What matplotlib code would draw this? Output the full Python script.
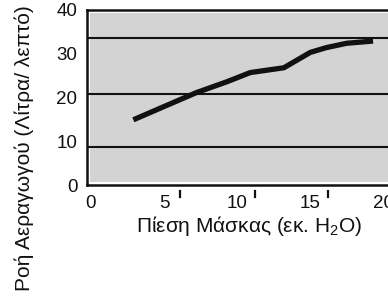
import matplotlib
matplotlib.use("Agg")
import matplotlib.pyplot as plt
from matplotlib.patches import Rectangle
import matplotlib.transforms as mtransforms

plt.rcParams['font.family'] = ['Liberation Sans', 'DejaVu Sans']

# data
pressure = [2.9, 4.7, 7.2, 9.3, 10.9, 13.2, 15.0, 16.1, 17.5, 19.3]
flow = [14.9, 17.5, 21.1, 23.6, 25.7, 26.8, 30.3, 31.4, 32.4, 32.9]
x_ticks = [0, 5, 10, 15, 20]
y_ticks = [0, 10, 20, 30, 40]
grid_levels = [8.75, 20.8, 33.7]
extra_tick_marks = [6.1, 11.2, 16.2]

W, H = 388, 298
fig = plt.figure(figsize=(W / 100, H / 100), dpi=100)
left, right, top, bottom = 87, 395, 10, 185
ax = fig.add_axes([left / W, 1 - bottom / H, (right - left) / W, (bottom - top) / H])
ax.set_xlim(-0.27, 20.8)
ax.set_ylim(0, 40)
ax.set_facecolor('white')

# gray inner panel with white border
ax.add_patch(Rectangle((0.01, 0.017), 0.99, 0.966, transform=ax.transAxes,
                       facecolor='#d3d3d3', edgecolor='none', zorder=0))

for g in grid_levels:
    ax.axhline(g, color='#111111', lw=1.5, zorder=1)

ax.plot(pressure, flow, color='#111111', lw=3.8, solid_capstyle='butt',
        solid_joinstyle='round', zorder=3)

for s in ax.spines.values():
    s.set_linewidth(1.8)
    s.set_color('#111111')

ax.set_xticks(x_ticks)
ax.set_yticks(y_ticks)
ax.tick_params(axis='both', length=0, labelsize=13.5, colors='#111111')
ax.tick_params(axis='x', pad=7)
ax.tick_params(axis='y', pad=7)

# offset short tick marks below the x axis
trans = mtransforms.blended_transform_factory(ax.transData, ax.transAxes)
for t in extra_tick_marks:
    ax.plot([t, t], [-0.034, -0.067], transform=trans, color='#111111',
            lw=1.6, clip_on=False)

fig.text(249 / W, 1 - 226 / H, r'Πίεση Μάσκας (εκ. $\mathregular{H_2O}$)',
         ha='center', va='center', fontsize=15, color='#111111')
fig.text(24 / W, 1 - 148 / H, 'Ροή Αεραγωγού (Λίτρα/ λεπτό)', rotation=90,
         ha='center', va='center', fontsize=15, color='#111111')

fig.savefig('out.png', dpi=100)
